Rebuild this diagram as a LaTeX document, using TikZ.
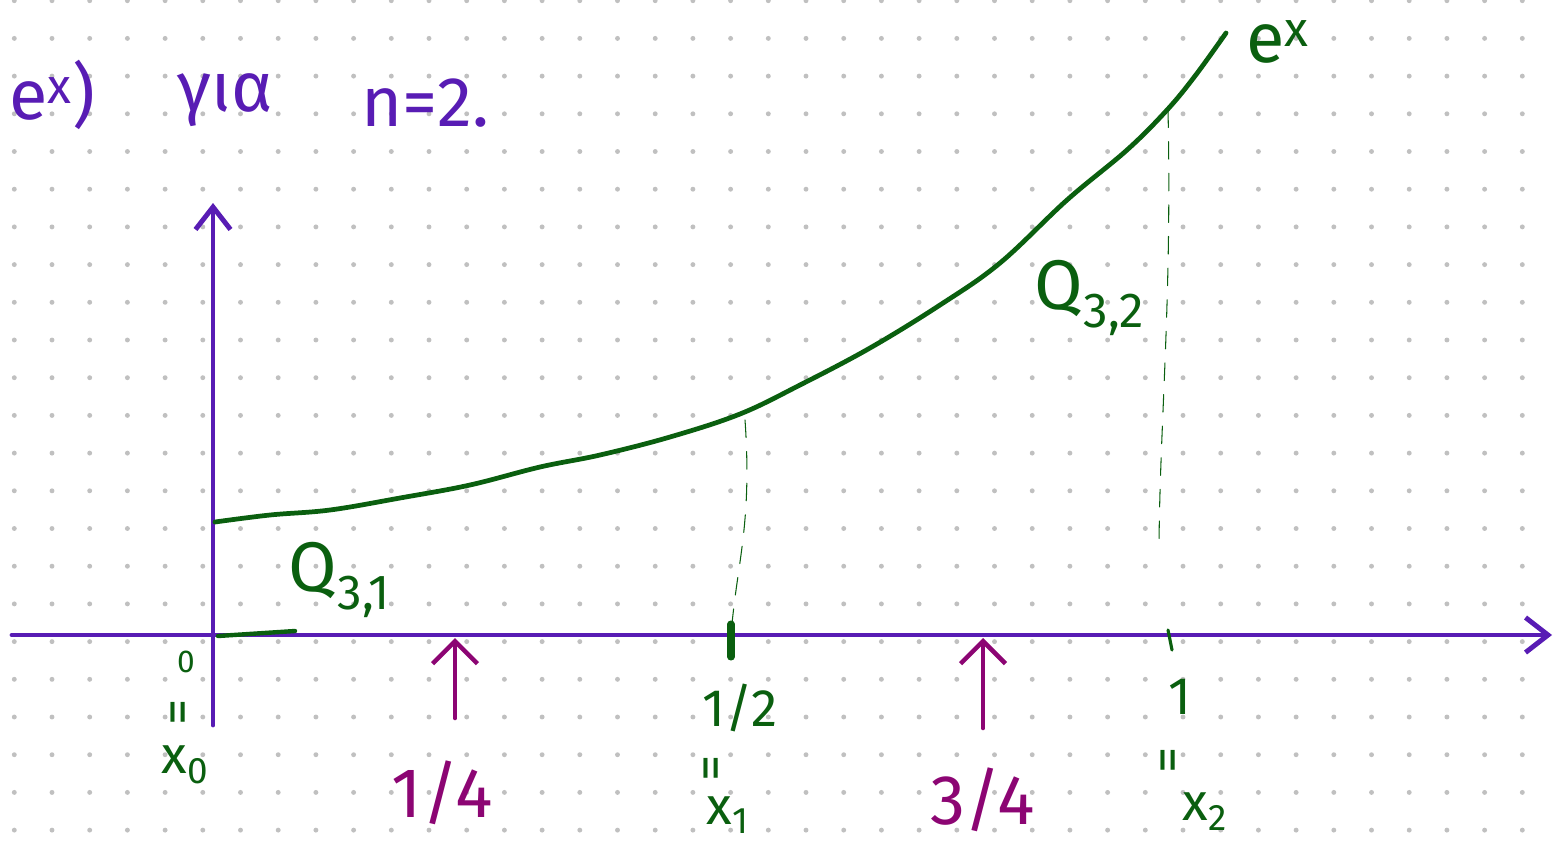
\documentclass[tikz,border=0pt]{standalone}
\usepackage{fontspec}
\setmainfont{Fira Sans}
\usetikzlibrary{arrows.meta}
\definecolor{axisviolet}{RGB}{88,28,180}
\definecolor{curvegreen}{RGB}{10,95,15}
\definecolor{arrowplum}{RGB}{140,5,115}
\definecolor{dotgray}{RGB}{192,192,192}

\begin{document}
\begin{tikzpicture}[x=0.02cm,y=-0.02cm,line cap=round,
  axis/.style={axisviolet,line width=2.8pt,-{Straight Barb[length=4.5mm,width=7mm,line width=2.8pt]}},
  curve/.style={curvegreen,line width=2.7pt},
  guide/.style={curvegreen,line width=0.6pt,dash pattern=on 10pt off 8pt},
  upmark/.style={arrowplum,line width=2.6pt,-{Straight Barb[length=4.5mm,width=9mm,line width=2.6pt]}},
  bigtxt/.style={font=\fontsize{40}{42}\selectfont},
  midtxt/.style={font=\fontsize{30}{32}\selectfont},
  smalltxt/.style={font=\fontsize{18}{20}\selectfont}]
\useasboundingbox (0,0) rectangle (1554,845);
% dotted paper
\foreach \i in {0,...,40}
\foreach \j in {0,...,22}
\fill[dotgray] (14.3+37.7*\i,0.7+37.7*\j) circle (1.4pt);
% heading
\node[bigtxt,axisviolet] (head) at (52,95) {e\textsuperscript{x})};
\node[bigtxt,axisviolet] (gia) at (225,100) {για};
\node[bigtxt,axisviolet] (neq) at (425,103) {n=2.};
% axes
\coordinate (xstart) at (12,635);
\coordinate (xend) at (1552,635);
\coordinate (ybot) at (213,725);
\coordinate (ytop) at (213,203);
\draw[axis] (xstart) -- (xend);
\draw[axis] (ybot) -- (ytop);
% e^x
\draw[curve] plot[smooth,tension=0.6] coordinates {(215,522) (270,515) (330,510) (400,498) (470,485) (540,467) (600,455) (670,437) (740,414) (800,385) (870,348) (940,305) (1000,263) (1067,200) (1127,150) (1167,110) (1195,76) (1226,33)};
\node[bigtxt,curvegreen] (expl) at (1278,42) {e\textsuperscript{x}};
\draw[curvegreen,line width=2.5pt] (218,636) -- (295,631);
% guides at x_1, x_2
\coordinate (topone) at (745,420);
\coordinate (botone) at (732,624);
\draw[guide] (topone) .. controls (752,520) and (738,560) .. (botone);
\draw[curvegreen,line width=4pt] (731,624) -- (731,657);
\coordinate (toptwo) at (1168,110);
\coordinate (bottwo) at (1159,545);
\draw[guide] (toptwo) .. controls (1172,300) and (1160,420) .. (bottwo);
\draw[curvegreen,line width=1.8pt] (1168,630) -- (1172,650);
% quarter points
\coordinate (qone) at (455,718);
\coordinate (qonetop) at (455,638);
\coordinate (qthree) at (983,728);
\coordinate (qthreetop) at (983,638);
\draw[upmark] (qone) -- (qonetop);
\draw[upmark] (qthree) -- (qthreetop);
\node[bigtxt,arrowplum] (quarter) at (442,793) {1/4};
\node[bigtxt,arrowplum] (threeq) at (983,800) {3/4};
% labels
\node[bigtxt,curvegreen] (qa) at (340,580) {Q\textsubscript{3,1}};
\node[bigtxt,curvegreen] (qb) at (1090,298) {Q\textsubscript{3,2}};
\node[smalltxt,curvegreen] (zero) at (186,662) {0};
\node[midtxt,curvegreen,rotate=90] (eqa) at (183,712) {=};
\node[midtxt,curvegreen] (xa) at (185,765) {x\textsubscript{0}};
\node[midtxt,curvegreen] (half) at (740,708) {1/2};
\node[midtxt,curvegreen,rotate=90] (eqb) at (716,768) {=};
\node[midtxt,curvegreen] (xb) at (728,815) {x\textsubscript{1}};
\node[midtxt,curvegreen] (one) at (1180,697) {1};
\node[midtxt,curvegreen,rotate=90] (eqc) at (1173,760) {=};
\node[midtxt,curvegreen] (xc) at (1205,812) {x\textsubscript{2}};
\end{tikzpicture}
\end{document}
